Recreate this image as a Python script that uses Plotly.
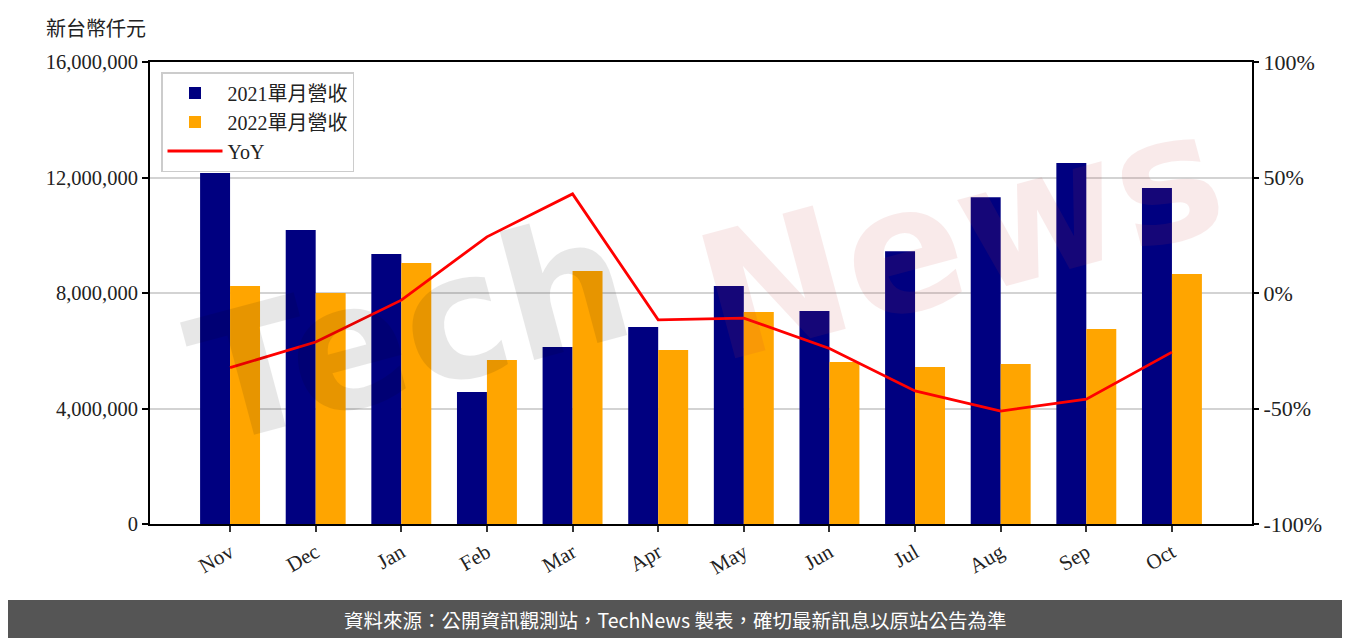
import plotly.graph_objects as go

months = ["Nov", "Dec", "Jan", "Feb", "Mar", "Apr", "May", "Jun", "Jul", "Aug", "Sep", "Oct"]
rev_2021 = [12160000, 10180000, 9350000, 4570000, 6130000, 6820000, 8240000, 7380000, 9450000, 11320000, 12500000, 11640000]
rev_2022 = [8240000, 8000000, 9040000, 5680000, 8760000, 6030000, 7340000, 5610000, 5440000, 5540000, 6750000, 8660000]
yoy = [-32.3, -21.2, -3.1, 24.3, 42.9, -11.6, -10.9, -24.0, -42.4, -51.1, -46.0, -25.6]

left_ticks = [0, 4000000, 8000000, 12000000, 16000000]
right_ticks = [-100, -50, 0, 50, 100]
right_labels = ["-100%", "-50%", "0%", "50%", "100%"]

FONT = "Liberation Serif, Noto Sans CJK TC, serif"

fig = go.Figure()
fig.add_trace(go.Bar(x=months, y=rev_2021, name="2021單月營收", marker_color="#000080", marker_line_width=0))
fig.add_trace(go.Bar(x=months, y=rev_2022, name="2022單月營收", marker_color="#FFA500", marker_line_width=0))
fig.add_trace(go.Scatter(x=months, y=yoy, name="YoY", mode="lines", line=dict(color="#FF0000", width=2.8), yaxis="y2"))

# page offset (body margin) compensation
OFF = 8
W, H = 1350 - OFF, 638 - OFF
# plot area in page pixels: x 150..1252, y 62..524
L, R, T, B = 150 - OFF, 1252 - OFF, 62 - OFF, 524 - OFF
pw, ph = R - L, B - T

def px(x):
    return (x - OFF - L) / pw

def py(y):
    return (B - (y - OFF)) / ph

fig.update_layout(
    width=W, height=H,
    margin=dict(l=L, r=W - R, t=T, b=H - B),
    paper_bgcolor="white", plot_bgcolor="white",
    barmode="group", bargap=0.3, bargroupgap=0,
    font=dict(family=FONT, size=20, color="#222222"),
    showlegend=True,
    legend=dict(
        x=px(161), y=py(72), xanchor="left", yanchor="top",
        bgcolor="rgba(255,255,255,0.85)", bordercolor="#cccccc", borderwidth=1.5,
        font=dict(family=FONT, size=20, color="#222222"),
        itemwidth=55, tracegroupgap=0,
    ),
    xaxis=dict(
        range=[-0.935, 11.935], showline=True, linecolor="black", linewidth=2, mirror=True,
        ticks="outside", ticklen=6, tickwidth=2, tickcolor="#333333", tickangle=-30,
        showgrid=False, zeroline=False, tickfont=dict(family=FONT, size=21, color="#222222"),
    ),
    yaxis=dict(
        range=[0, 16000000], tickvals=left_ticks, tickformat=",d",
        showline=True, linecolor="black", linewidth=2, mirror=True,
        ticks="outside", ticklen=6, tickwidth=2, tickcolor="black",
        showgrid=True, gridcolor="#d3d3d3", gridwidth=1.5, zeroline=False,
        tickfont=dict(family=FONT, size=20.5, color="#222222"),
    ),
    yaxis2=dict(
        range=[-100, 100], tickvals=right_ticks, ticktext=right_labels, overlaying="y", side="right",
        showline=False, ticks="outside", ticklen=6, tickwidth=2, tickcolor="black",
        showgrid=False, zeroline=False, tickfont=dict(family=FONT, size=22, color="#222222"),
    ),
)

# Footer band
fig.add_shape(type="rect", xref="paper", yref="paper", x0=px(0), x1=px(1350), y0=py(640), y1=py(600),
              fillcolor="#555555", line_width=0, layer="above")
fig.add_annotation(xref="paper", yref="paper", x=px(675), y=py(619), xanchor="center", yanchor="middle",
                   text="資料來源：公開資訊觀測站，TechNews 製表，確切最新訊息以原站公告為準",
                   showarrow=False, font=dict(family="Noto Sans CJK TC, sans-serif", size=19.5, color="white"))

# Unit title
fig.add_annotation(xref="paper", yref="paper", x=px(44), y=py(27), xanchor="left", yanchor="middle",
                   text="新台幣仟元", showarrow=False,
                   font=dict(family="Noto Sans CJK TC, serif", size=20, color="#222222"))

# Watermark
fig.add_annotation(xref="paper", yref="paper", x=px(410), y=py(330), xanchor="center", yanchor="middle",
                   text="<b>Tech</b>", showarrow=False, textangle=-15, opacity=0.09,
                   font=dict(family="DejaVu Sans", size=175, color="#000000"))
fig.add_annotation(xref="paper", yref="paper", x=px(960), y=py(235), xanchor="center", yanchor="middle",
                   text="<b>News</b>", showarrow=False, textangle=-15, opacity=0.1,
                   font=dict(family="DejaVu Sans", size=175, color="#C83C3C"))

fig.write_html("out.html")
